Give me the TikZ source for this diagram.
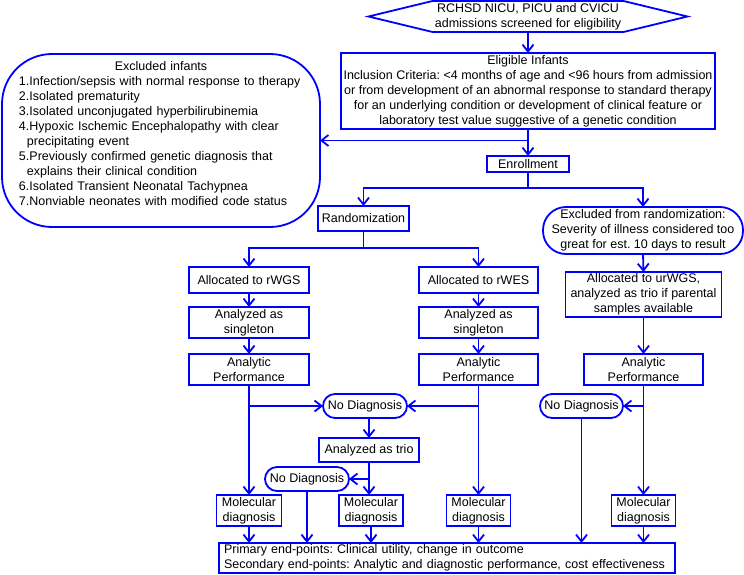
\documentclass[tikz,border=0pt]{standalone}
\usepackage{fontspec}
\setmainfont{Liberation Sans}
\usetikzlibrary{arrows.meta,calc}
\definecolor{fblue}{RGB}{0,0,255}
\begin{document}
\frenchspacing
\begin{tikzpicture}[x=1pt,y=-1pt,
  every node/.style={font=\fontsize{12.5}{15}\selectfont\frenchspacing, inner sep=0pt, outer sep=0pt, text=black},
  bx/.style={draw=fblue, line width=1.8pt, fill=white, align=center},
  pill/.style={bx, rounded corners=12pt},
  conn/.style={draw=fblue, line width=1.8pt},
  arr/.style={conn, -{Straight Barb[length=7pt,width=11pt]}}
]
\useasboundingbox (0,0) rectangle (744,575);

% top hexagon
\node[minimum width=191pt, minimum height=31pt, align=center] (hex) at (528,16.5)
  {RCHSD NICU, PICU and CVICU\\admissions screened for eligibility};
\draw[conn, line join=miter] ($(hex.west)+(-64,0)$) -- (hex.north west) -- (hex.north east)
  -- ($(hex.east)+(64,0)$) -- (hex.south east) -- (hex.south west) -- cycle;

\node[bx, minimum width=374pt, minimum height=76pt] (elig) at (528,91)
  {Eligible Infants\\Inclusion Criteria: <4 months of age and <96 hours from admission\\or from development of an abnormal response to standard therapy\\for an underlying condition or development of clinical feature or\\laboratory test value suggestive of a genetic condition};

% excluded infants
\node[bx, rounded corners=50pt, minimum width=318pt, minimum height=173pt] (excl) at (161,140.5) {};
\node[text width=284pt, align=left] (exclt) at (161,133.5)
  {\makebox[284pt]{Excluded infants}\\
   1.Infection/sepsis with normal response to therapy\\
   2.Isolated prematurity\\
   3.Isolated unconjugated hyperbilirubinemia\\
   4.Hypoxic Ischemic Encephalopathy with clear\\
   \hspace*{8pt}precipitating event\\
   5.Previously confirmed genetic diagnosis that\\
   \hspace*{8pt}explains their clinical condition\\
   6.Isolated Transient Neonatal Tachypnea\\
   7.Nonviable neonates with modified code status};

\node[bx, minimum width=82pt, minimum height=16pt] (enroll) at (528,164) {Enrollment};
\node[bx, minimum width=91pt, minimum height=25pt] (rand) at (363.5,218.5) {Randomization};
\node[bx, rounded corners=23pt, minimum width=200pt, minimum height=47pt] (exrand) at (643,230.5)
  {Excluded from randomization:\\Severity of illness considered too\\great for est. 10 days to result};

% left column
\node[bx, minimum width=120pt, minimum height=26pt] (rwgs) at (249,280) {Allocated to rWGS};
\node[bx, minimum width=120pt, minimum height=31pt] (sing1) at (249,322.5) {Analyzed as\\singleton};
\node[bx, minimum width=120pt, minimum height=31pt] (ap1) at (249,369.5) {Analytic\\Performance};
% middle column
\node[bx, minimum width=119pt, minimum height=26pt] (rwes) at (478.5,280) {Allocated to rWES};
\node[bx, minimum width=119pt, minimum height=31pt] (sing2) at (478.5,322.5) {Analyzed as\\singleton};
\node[bx, minimum width=119pt, minimum height=31pt] (ap2) at (478.5,369.5) {Analytic\\Performance};
% right column
\node[bx, minimum width=156pt, minimum height=45pt] (urwgs) at (643.5,294.5)
  {Allocated to urWGS,\\analyzed as trio if parental\\samples available};
\node[bx, minimum width=119pt, minimum height=31pt] (ap3) at (643.5,369.5) {Analytic\\Performance};

% diagnosis steps
\node[pill, minimum width=84pt, minimum height=24pt] (nd1) at (365,406) {No Diagnosis};
\node[bx, minimum width=100pt, minimum height=24pt] (trio) at (369,450) {Analyzed as trio};
\node[pill, minimum width=84pt, minimum height=24pt] (nd2) at (307,479) {No Diagnosis};
\node[pill, minimum width=83pt, minimum height=24pt] (nd3) at (581.5,406) {No Diagnosis};

\node[bx, minimum width=65pt, minimum height=31pt] (md1) at (249,510.5) {Molecular\\diagnosis};
\node[bx, minimum width=64pt, minimum height=31pt] (md2) at (371,510.5) {Molecular\\diagnosis};
\node[bx, minimum width=64pt, minimum height=31pt] (md3) at (478.5,510.5) {Molecular\\diagnosis};
\node[bx, minimum width=64pt, minimum height=31pt] (md4) at (643.5,510.5) {Molecular\\diagnosis};

\node[bx, minimum width=456pt, minimum height=30pt, text width=446pt, align=left] (endp) at (447,558)
  {Primary end-points: Clinical utility, change in outcome\\Secondary end-points: Analytic and diagnostic performance, cost effectiveness};

% junctions
\coordinate (j1) at (528,188);
\coordinate (j2) at (363.5,248);

% connectors
\draw[arr] (hex.south) -- (elig.north);
\draw[arr] (elig.south) -- (enroll.north);
\draw[arr] (elig.south |- excl.east) -- (excl.east);
\draw[conn] (enroll.south) -- (j1);
\draw[arr] (j1) -| (rand.north);
\draw[arr] (j1) -| (exrand.north);
\draw[conn] (rand.south) -- (j2);
\draw[arr] (j2) -| (rwgs.north);
\draw[arr] (j2) -| (rwes.north);
\draw[arr] (rwgs.south) -- (sing1.north);
\draw[arr] (sing1.south) -- (ap1.north);
\draw[arr] (rwes.south) -- (sing2.north);
\draw[arr] (sing2.south) -- (ap2.north);
\draw[arr] (exrand.south) -- (urwgs.north);
\draw[arr] (urwgs.south) -- (ap3.north);

\draw[arr] (ap1.south) -- (md1.north);
\draw[arr] (ap1.south |- nd1.west) -- (nd1.west);
\draw[arr] (ap2.south) -- (md3.north);
\draw[arr] (ap2.south |- nd1.east) -- (nd1.east);
\draw[arr] (trio.north |- nd1.south) -- (trio.north);
\draw[arr] (trio.south) -- (trio.south |- md2.north);
\draw[arr] (trio.south |- nd2.east) -- (nd2.east);
\draw[arr] (ap3.south) -- (md4.north);
\draw[arr] (ap3.south |- nd3.east) -- (nd3.east);

\draw[arr] (md1.south) -- (md1.south |- endp.north);
\draw[arr] (nd2.south) -- (nd2.south |- endp.north);
\draw[arr] (md2.south) -- (md2.south |- endp.north);
\draw[arr] (md3.south) -- (md3.south |- endp.north);
\draw[arr] (nd3.south) -- (nd3.south |- endp.north);
\draw[arr] (md4.south) -- (md4.south |- endp.north);
\end{tikzpicture}
\end{document}
